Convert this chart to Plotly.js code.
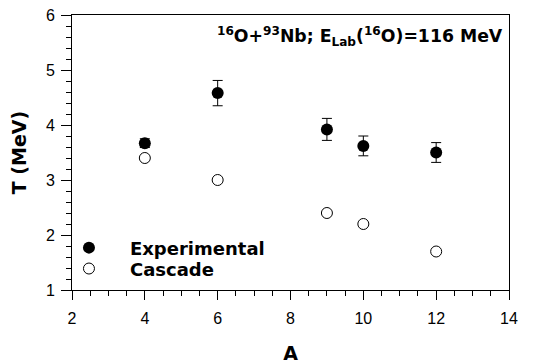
<!DOCTYPE html>
<html>
<head>
<meta charset="utf-8">
<script src="https://cdn.plot.ly/plotly-3.0.1.min.js"></script>
<style>html,body{margin:0;padding:0;background:#fff;}#chart{width:545px;height:364px;}</style>
</head>
<body>
<div id="chart"></div>
<script>
const massNumbers = [4, 6, 9, 10, 12];
const expTemperature = [3.67, 4.58, 3.92, 3.62, 3.50];
const expError = [0.08, 0.23, 0.20, 0.18, 0.18];
const cascadeTemperature = [3.40, 3.00, 2.40, 2.20, 1.70];
const seriesNames = ['Experimental', 'Cascade'];
const xTicks = [2, 4, 6, 8, 10, 12, 14];
const yTicks = [1, 2, 3, 4, 5, 6];

const FONT = '"Liberation Sans", Arial, Helvetica, sans-serif';
const BOLDFONT = '"DejaVu Sans", Verdana, sans-serif';

const traces = [
  {
    x: massNumbers, y: expTemperature, name: seriesNames[0], legend: 'legend',
    type: 'scatter', mode: 'markers',
    marker: {symbol: 'circle', size: 12, color: '#000'},
    error_y: {type: 'data', array: expError, visible: true, color: '#000', thickness: 1, width: 5}
  },
  {
    x: massNumbers, y: cascadeTemperature, name: seriesNames[1], legend: 'legend2',
    type: 'scatter', mode: 'markers',
    marker: {symbol: 'circle-open', size: 11, color: '#000', line: {width: 1, color: '#000'}}
  }
];

const axisBase = {
  showline: true, linecolor: '#000', linewidth: 1, mirror: true,
  showgrid: false, zeroline: false,
  ticks: 'outside', ticklen: 9, tickwidth: 1, tickcolor: '#000',
  tickfont: {family: FONT, size: 16, color: '#000'}
};

const legendBase = {
  xanchor: 'left', yanchor: 'middle',
  bgcolor: 'rgba(0,0,0,0)', borderwidth: 0,
  font: {family: BOLDFONT, size: 18, color: '#000', weight: 'bold'},
  itemwidth: 72
};

const layout = {
  width: 545, height: 364,
  margin: {l: 72, r: 36, t: 15, b: 74},
  paper_bgcolor: '#fff', plot_bgcolor: '#fff',
  font: {family: FONT, color: '#000'},
  showlegend: true,
  legend: Object.assign({}, legendBase, {x: -0.055, y: 0.153}),
  legend2: Object.assign({}, legendBase, {x: -0.055, y: 0.077}),
  xaxis: Object.assign({}, axisBase, {
    range: [2, 14], tickvals: xTicks, ticktext: xTicks.map(String),
    ticklabelstandoff: 5,
    minor: {dtick: 0.5, tick0: 2, ticks: 'outside', ticklen: 5, tickwidth: 1, tickcolor: '#000'},
    title: {text: '<b>A</b>', font: {family: BOLDFONT, size: 19, color: '#000'}, standoff: 33}
  }),
  yaxis: Object.assign({}, axisBase, {
    range: [1, 6], tickvals: yTicks, ticktext: yTicks.map(String),
    ticklen: 10, ticklabelstandoff: 3,
    minor: {dtick: 0.2, tick0: 1, ticks: 'outside', ticklen: 5, tickwidth: 1, tickcolor: '#000'},
    title: {text: '<b>T (MeV)</b>', font: {family: BOLDFONT, size: 19, color: '#000'}, standoff: 14}
  }),
  annotations: [{
    xref: 'paper', yref: 'paper', x: 0.99, y: 0.92, xanchor: 'right', yanchor: 'middle',
    showarrow: false,
    text: '<b><sup>16</sup>O+<sup>93</sup>Nb; E<sub>Lab</sub>(<sup>16</sup>O)=116 MeV</b>',
    font: {family: BOLDFONT, size: 17.3, color: '#000'}
  }]
};

Plotly.newPlot('chart', traces, layout, {displayModeBar: false, staticPlot: true});
</script>
</body>
</html>
